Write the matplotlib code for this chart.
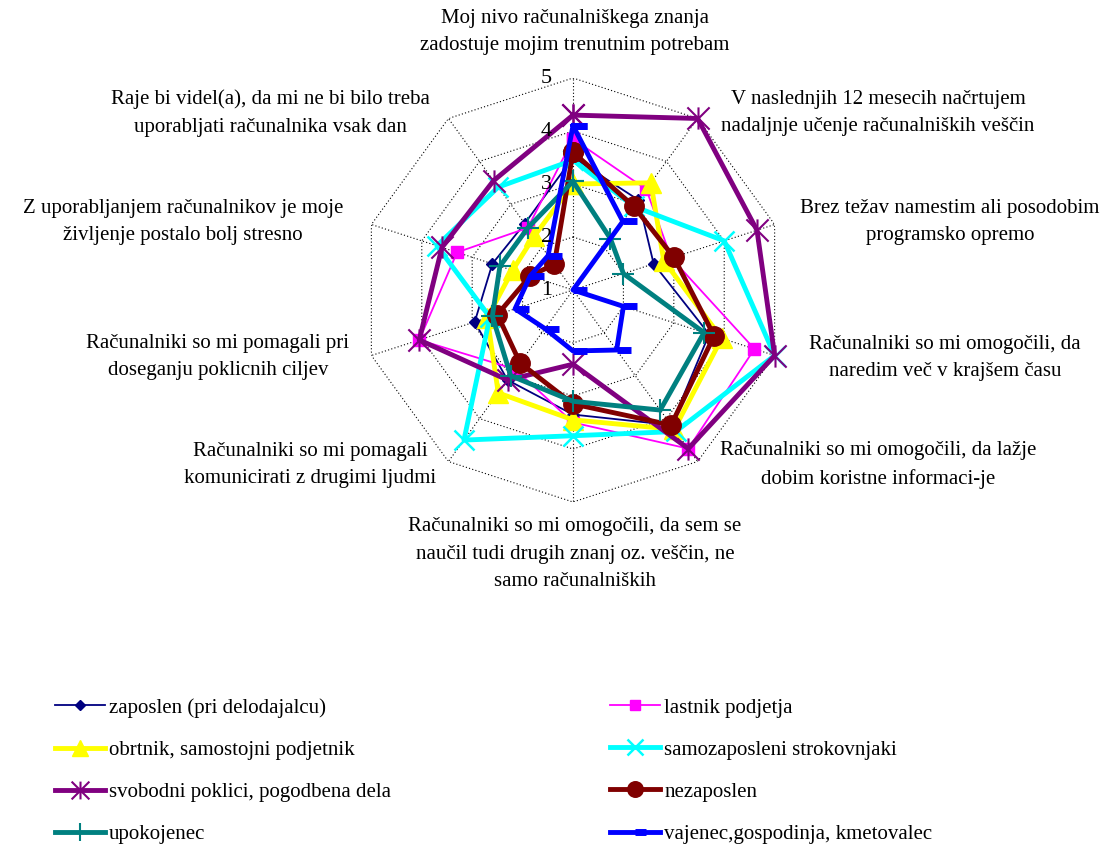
import numpy as np
import matplotlib.pyplot as plt
from matplotlib.path import Path

plt.rcParams['font.family'] = ['Liberation Serif', 'DejaVu Serif']

# axis labels, clockwise from the top
labels = [
    "Moj nivo računalniškega znanja\nzadostuje mojim trenutnim potrebam",
    "V naslednjih 12 mesecih načrtujem\nnadaljnje učenje računalniških veščin",
    "Brez težav namestim ali posodobim\nprogramsko opremo",
    "Računalniki so mi omogočili, da\nnaredim več v krajšem času",
    "Računalniki so mi omogočili, da lažje\ndobim koristne informaci-je",
    "Računalniki so mi omogočili, da sem se\nnaučil tudi drugih znanj oz. veščin, ne\nsamo računalniških",
    "Računalniki so mi pomagali\nkomunicirati z drugimi ljudmi",
    "Računalniki so mi pomagali pri\ndoseganju poklicnih ciljev",
    "Z uporabljanjem računalnikov je moje\nživljenje postalo bolj stresno",
    "Raje bi videl(a), da mi ne bi bilo treba\nuporabljati računalnika vsak dan",
]
levels = [1, 2, 3, 4, 5]

zaposlen = [3.5, 3.1, 2.6, 3.7, 4.15, 3.35, 3.1, 2.95, 2.6, 2.55]
lastnik = [3.85, 3.35, 2.95, 4.6, 4.7, 3.5, 2.85, 4.05, 3.3, 2.45]
obrtnik = [3.0, 3.5, 2.8, 3.95, 4.25, 3.45, 3.4, 2.7, 2.2, 2.25]
samozaposleni = [3.45, 2.95, 4.0, 5.0, 4.3, 3.75, 4.5, 2.65, 3.7, 3.4]
svobodni = [4.3, 5.0, 4.65, 5.0, 4.7, 2.4, 3.1, 4.05, 3.6, 3.55]
nezaposlen = [3.6, 2.95, 3.0, 3.8, 4.15, 3.15, 2.7, 2.5, 1.85, 1.6]
upokojenec = [3.05, 2.2, 2.0, 3.6, 3.8, 3.1, 3.0, 2.6, 2.45, 2.45]
vajenec = [4.1, 2.6, 1.0, 2.0, 2.4, 2.15, 1.9, 2.15, 1.85, 1.8]

# bar marker sticking out to the right of the point
dash = Path([(0, 0), (1, 0)], [Path.MOVETO, Path.LINETO])
# excel style asterisk: an x with a vertical stroke
star = Path([(0, -1), (0, 1), (-1, -1), (1, 1), (-1, 1), (1, -1)],
            [Path.MOVETO, Path.LINETO] * 3)

series = [
    ("zaposlen (pri delodajalcu)", zaposlen, dict(color="#000080", lw=1.3, marker="D", ms=6)),
    ("lastnik podjetja", lastnik, dict(color="#FF00FF", lw=1.3, marker="s", ms=9)),
    ("obrtnik, samostojni podjetnik", obrtnik, dict(color="#FFFF00", lw=3.5, marker="^", ms=15)),
    ("samozaposleni strokovnjaki", samozaposleni, dict(color="#00FFFF", lw=3.5, marker="x", ms=14, mew=1.8)),
    ("svobodni poklici, pogodbena dela", svobodni, dict(color="#800080", lw=3.5, marker=star, ms=16, mew=1.5)),
    ("nezaposlen", nezaposlen, dict(color="#800000", lw=3.5, marker="o", ms=14)),
    ("upokojenec", upokojenec, dict(color="#008080", lw=3.5, marker="+", ms=16, mew=1.5)),
    ("vajenec,gospodinja, kmetovalec", vajenec, dict(color="#0000FF", lw=3.5, marker=dash, ms=20, mew=5)),
]

W, H = 1119, 846
fig = plt.figure(figsize=(W / 100, H / 100), dpi=100)
cx, cy, R = 573, 290, 212
ax = fig.add_axes([(cx - R) / W, (H - cy - R) / H, 2 * R / W, 2 * R / H], projection='polar')
ax.set_theta_offset(np.pi / 2)
ax.set_theta_direction(-1)
ax.set_ylim(1, 5)
ax.grid(False)
ax.set_xticks([])
ax.set_yticks([])
ax.spines['polar'].set_visible(False)

n = len(labels)
angles = np.arange(n) * 2 * np.pi / n
closed = np.append(angles, angles[0])

# dotted decagon grid and spokes
for lv in levels[1:]:
    ax.plot(closed, [lv] * (n + 1), color="black", lw=0.8, ls=(0, (1, 2)), zorder=1)
for a in angles:
    ax.plot([a, a], [levels[0], levels[-1]], color="black", lw=0.8, ls=(0, (1, 2)), zorder=1)

handles = {}
for name, vals, st in series:
    v = np.append(vals, vals[0])
    line, = ax.plot(closed, v, clip_on=False, zorder=3, markeredgecolor=st["color"],
                    markerfacecolor=st["color"], **st)
    handles[name] = line

for lv in levels:
    ax.annotate(str(lv), xy=(0, lv), xytext=(-19, 0), textcoords='offset points',
                ha='center', va='center', fontsize=16)

# axis label positions in pixels (centre of text block)
label_pos = [(575, 32), (878, 113), (950, 222), (945, 358), (878, 465),
             (575, 554), (310, 465), (218, 357), (183, 222), (270, 113)]
for txt, (px, py) in zip(labels, label_pos):
    fig.text(px / W, 1 - py / H, txt, ha='center', va='center', fontsize=15,
             linespacing=1.6, multialignment='center')

names = [s[0] for s in series]
left = [names[0], names[2], names[4], names[6]]
right = [names[1], names[3], names[5], names[7]]
for col, x0 in ((left, 55), (right, 610)):
    fig.legend([handles[k] for k in col], col, loc='upper left',
               bbox_to_anchor=(x0 / W, 1 - 698 / H), frameon=False, fontsize=15,
               borderpad=0, borderaxespad=0, handlelength=2.4, handletextpad=0.2,
               labelspacing=1.08, markerscale=0.8)

fig.savefig("out.png", dpi=100)
